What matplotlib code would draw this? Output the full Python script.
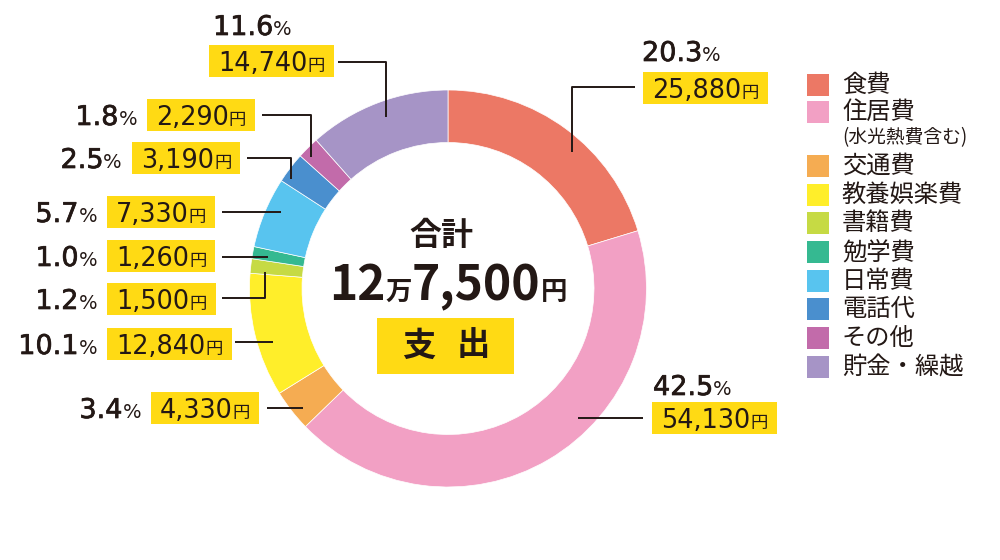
import matplotlib
matplotlib.use("Agg")
import matplotlib.pyplot as plt
from matplotlib.patches import Rectangle
import matplotlib.patheffects as pe

# ---------------- data ----------------
categories = ["食費", "住居費", "交通費", "教養娯楽費", "書籍費", "勉学費",
              "日常費", "電話代", "その他", "貯金・繰越"]
amounts = [25880, 54130, 4330, 12840, 1500, 1260, 7330, 3190, 2290, 14740]
percents = ["20.3", "42.5", "3.4", "10.1", "1.2", "1.0", "5.7", "2.5", "1.8", "11.6"]
colors = ["#EC7865", "#F2A0C4", "#F5AC52", "#FFEE2A", "#C6DA44", "#35B991",
          "#58C4EF", "#4A8FCE", "#C26BAA", "#A694C6"]
total_label = ("12", "万", "7,500", "円")
title_top = "合計"
title_box = ("支", "出")
legend_note = "(水光熱費含む)"

# ---------------- layout (pixel coords, y from top) ----------------
W, H = 1000, 560
CX, CY = 448, 288.5
R_OUT, RING = 198.5, 52.5
INK = "#231815"
YEL = "#FFDA14"
# per-category label layout: (pct_mode, pct_x, pct_baseline, box_left, box_top, leader)
label_layout = [
    ("above", 642, 61, 643, 72, [(635, 87), (572, 87), (572, 152)]),
    ("above", 653, 395, 652, 402, [(643, 418), (578, 418)]),
    ("left", None, None, 151, 392, [(267, 408), (303, 408)]),
    ("left", None, None, 107, 328, [(235, 342), (273, 342)]),
    ("left", None, None, 107, 283, [(222, 298), (265, 298), (265, 272)]),
    ("left", None, None, 107, 240, [(222, 257), (268, 257)]),
    ("left", None, None, 107, 196, [(222, 212), (281, 212)]),
    ("left", None, None, 132, 142, [(247, 158), (291, 158), (291, 179)]),
    ("left", None, None, 147, 99, [(262, 115), (311, 115), (311, 157)]),
    ("above", 213, 35, 209, 45, [(338, 62), (386, 62), (386, 117)]),
]

JP = ["Noto Sans CJK JP", "DejaVu Sans"]
NUM = ["DejaVu Sans"]

fig = plt.figure(figsize=(W / 100, H / 100), dpi=100)
ax = fig.add_axes([0, 0, 1, 1])
ax.set_xlim(0, W)
ax.set_ylim(0, H)
ax.set_aspect("equal")
ax.axis("off")


def Y(py):
    return H - py


# donut
ax.pie(amounts, colors=colors, radius=R_OUT, center=(CX, Y(CY)),
       startangle=90, counterclock=False,
       wedgeprops=dict(width=RING, edgecolor="white", linewidth=0.5))
ax.set_xlim(0, W)
ax.set_ylim(0, H)

renderer = fig.canvas.get_renderer()


def rich(x, baseline, pieces, ha="left"):
    texts, widths = [], []
    for s, kw in pieces:
        t = ax.text(0, Y(baseline), s, va="baseline", ha="left", color=INK, **kw)
        w = t.get_window_extent(renderer).width
        texts.append(t)
        widths.append(w)
    tot = sum(widths)
    cur = x - tot if ha == "right" else (x - tot / 2 if ha == "center" else x)
    for t, w in zip(texts, widths):
        t.set_x(cur)
        cur += w
    return cur


bold_fx = [pe.withStroke(linewidth=0.5, foreground=INK)]

for amt, pct, lay in zip(amounts, percents, label_layout):
    mode, px, pb, bx, by, leader = lay
    base = by + 26
    # amount text
    e = rich(bx + 9, base, [(f"{amt:,}", dict(fontsize=18.4, family=NUM)),
                            ("円", dict(fontsize=12.5, family=JP))])
    ax.add_patch(Rectangle((bx, Y(by + 32)), (e - bx) + 9, 32,
                           facecolor=YEL, edgecolor="none", zorder=1))
    # percent
    pct_pieces = [(pct, dict(fontsize=19.5, family=NUM, path_effects=bold_fx)),
                  ("%", dict(fontsize=14, family=NUM))]
    if mode == "above":
        rich(px, pb, pct_pieces)
    else:
        rich(bx - 10, base, pct_pieces, ha="right")
    xs = [p[0] for p in leader]
    ys = [Y(p[1]) for p in leader]
    ax.plot(xs, ys, color=INK, lw=1.4, solid_capstyle="butt", zorder=3)

# centre texts
ax.text(441, Y(236), title_top, ha="center", va="center", fontsize=23,
        family=JP, fontweight="bold", color=INK)
rich(CX, 300, [(total_label[0], dict(fontsize=34.5, family=JP, fontweight="bold")),
               (total_label[1], dict(fontsize=19, family=JP, fontweight="bold")),
               (total_label[2], dict(fontsize=34.5, family=JP, fontweight="bold")),
               (total_label[3], dict(fontsize=19, family=JP, fontweight="bold"))],
     ha="center")
ax.add_patch(Rectangle((377, Y(374)), 137, 56, facecolor=YEL, edgecolor="none"))
ax.text(419, Y(346), title_box[0], ha="center", va="center", fontsize=24,
        family=JP, fontweight="bold", color=INK)
ax.text(473, Y(346), title_box[1], ha="center", va="center", fontsize=24,
        family=JP, fontweight="bold", color=INK)

# legend
leg_rows = [85, 112, 166, 195, 223, 252, 281, 309, 338, 367]
for cat, col, ry in zip(categories, colors, leg_rows):
    ax.add_patch(Rectangle((807, Y(ry + 11)), 22, 22, facecolor=col, edgecolor="none"))
    ax.text(842, Y(ry), cat, ha="left", va="center", fontsize=17.5, family=JP, color=INK)
ax.text(842, Y(138), legend_note, ha="left", va="center", fontsize=13.5,
        family=JP, color=INK)

fig.savefig("out.png", dpi=100)
